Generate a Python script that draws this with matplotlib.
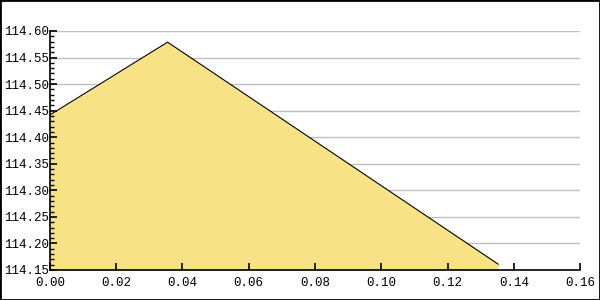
import numpy as np
import matplotlib.pyplot as plt
from matplotlib.ticker import MultipleLocator, FormatStrFormatter
from matplotlib.patches import Rectangle

# data
x_vals = [0.0, 0.0355, 0.1353]
y_vals = [114.442, 114.579, 114.161]

y_min, y_max = 114.15, 114.60
x_min, x_max = 0.0, 0.16
grid_levels = [114.20, 114.25, 114.30, 114.35, 114.40, 114.45, 114.50, 114.55, 114.60]

plt.rcParams['font.family'] = ['Liberation Mono', 'DejaVu Sans Mono']
plt.rcParams['font.size'] = 9

fig = plt.figure(figsize=(6, 3), dpi=100)
ax = fig.add_axes([50 / 600, 30 / 300, 530 / 600, 239 / 300])

# grid below the fill, axis ticks on top of it
for g in grid_levels:
    ax.axhline(g, color='#c0c0c0', linewidth=1, zorder=0.5)
ax.fill_between(x_vals, y_vals, y_min, color='#F7E285', linewidth=0, zorder=1)
ax.plot(x_vals, y_vals, color='black', linewidth=0.8, zorder=1.5)

ax.set_xlim(x_min, x_max)
ax.set_ylim(y_min, y_max)

ax.xaxis.set_major_locator(MultipleLocator(0.02))
ax.xaxis.set_major_formatter(FormatStrFormatter('%.2f'))
ax.yaxis.set_major_locator(MultipleLocator(0.05))
ax.yaxis.set_minor_locator(MultipleLocator(0.01))
ax.yaxis.set_major_formatter(FormatStrFormatter('%.2f'))
ax.set_axisbelow(False)

for s in ['top', 'right']:
    ax.spines[s].set_visible(False)
ax.spines['left'].set_linewidth(1.2)
ax.spines['bottom'].set_linewidth(1.2)

ax.tick_params(axis='both', which='major', direction='in', length=5, width=1.2)
ax.tick_params(axis='y', which='minor', direction='in', length=3, width=1)
ax.tick_params(axis='y', pad=1)
ax.tick_params(axis='x', pad=5)

# frame around the whole picture
fig.patches.append(Rectangle((0, 0), 1, 1, transform=fig.transFigure,
                             fill=False, edgecolor='black', linewidth=2))

fig.savefig('out.png', dpi=100)
